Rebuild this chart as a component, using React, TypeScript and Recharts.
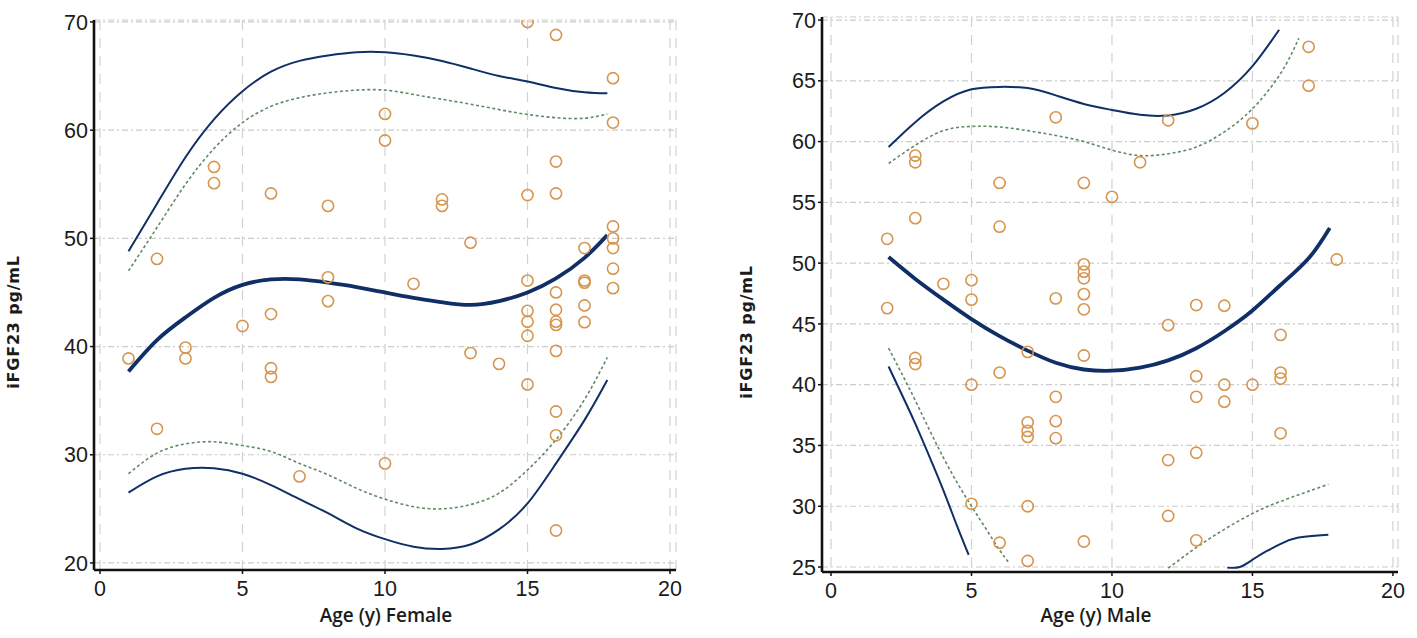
import React from "react";
import { ComposedChart, Scatter, Line, XAxis, YAxis, CartesianGrid } from "recharts";

// ---------- Female scatter ----------
const femaleAges = [
  1, 2, 2, 3, 3, 4, 4, 5, 6, 6, 6, 6, 7, 8, 8, 8, 10, 10, 10, 11, 12, 12, 13, 13, 14,
  15, 15, 15, 15, 15, 15, 15,
  16, 16, 16, 16, 16, 16, 16, 16, 16, 16, 16,
  17, 17, 17, 17, 17,
  18, 18, 18, 18, 18, 18, 18,
];
const femaleValues = [
  38.9, 48.1, 32.4, 39.9, 38.9, 56.6, 55.1, 41.9, 54.15, 43.0, 38.0, 37.2, 28.0, 53.0, 46.4, 44.2, 61.5, 59.05, 29.2, 45.8, 53.6, 53.0, 49.6, 39.4, 38.4,
  70.0, 54.0, 46.1, 43.3, 42.3, 41.0, 36.5,
  68.8, 57.1, 54.15, 45.0, 43.4, 42.3, 42.0, 39.6, 34.0, 31.8, 23.0,
  49.1, 46.1, 45.9, 43.8, 42.25,
  64.8, 60.7, 51.1, 50.0, 49.1, 47.2, 45.4,
];

// ---------- Female curves ----------
const femaleCurveAges = [1, 2, 3, 4, 5, 6, 7, 8, 9, 10, 11, 12, 13, 14, 15, 16, 17, 17.8];
const femaleFit = [37.7, 40.6, 42.7, 44.5, 45.7, 46.2, 46.2, 45.9, 45.5, 45.0, 44.5, 44.1, 43.85, 44.2, 45.0, 46.3, 48.2, 50.3];
const femaleUpperOuter = [48.8, 53.2, 57.5, 61.0, 63.6, 65.4, 66.4, 66.9, 67.2, 67.2, 66.9, 66.4, 65.7, 65.0, 64.5, 63.9, 63.5, 63.4];
const femaleUpperInner = [47.0, 51.0, 55.0, 58.3, 60.7, 62.2, 63.0, 63.45, 63.7, 63.7, 63.3, 62.85, 62.4, 61.9, 61.45, 61.15, 61.1, 61.5];
const femaleLowerInner = [28.25, 30.15, 31.0, 31.2, 30.85, 30.3, 29.2, 28.15, 26.9, 25.9, 25.2, 25.0, 25.4, 26.45, 28.6, 31.4, 35.1, 39.0];
const femaleLowerOuter = [26.5, 28.0, 28.7, 28.75, 28.25, 27.2, 25.9, 24.6, 23.2, 22.2, 21.5, 21.3, 21.7, 23.1, 25.5, 29.2, 33.2, 36.9];

// ---------- Male scatter ----------
const maleAges = [
  2, 2, 3, 3, 3, 3, 3, 4, 5, 5, 5, 5, 6, 6, 6, 6,
  7, 7, 7, 7, 7, 7,
  8, 8, 8, 8, 8,
  9, 9, 9, 9, 9, 9, 9, 9,
  10, 11, 12, 12, 12, 12,
  13, 13, 13, 13, 13, 14, 14, 14, 15, 15,
  16, 16, 16, 16, 17, 17, 18,
];
const maleValues = [
  52.0, 46.3, 58.85, 58.3, 53.7, 42.2, 41.7, 48.3, 48.6, 47.0, 40.0, 30.2, 56.6, 53.0, 41.0, 27.0,
  42.7, 36.9, 36.2, 35.7, 30.0, 25.5,
  62.0, 47.1, 39.0, 37.0, 35.6,
  56.6, 49.9, 49.3, 48.75, 47.45, 46.2, 42.4, 27.1,
  55.45, 58.3, 61.75, 44.9, 33.8, 29.2,
  46.55, 40.7, 39.0, 34.4, 27.2, 46.5, 40.0, 38.6, 61.5, 40.0,
  44.1, 41.0, 40.5, 36.0, 67.8, 64.6, 50.3,
];

// ---------- Male curves ----------
const maleFitAges = [2.05, 3, 4, 5, 6, 7, 8, 9, 10, 11, 12, 13, 14, 15, 16, 17, 17.75];
const maleFit = [50.5, 48.7, 47.0, 45.4, 44.0, 42.8, 41.8, 41.25, 41.15, 41.4, 42.0, 43.0, 44.4, 46.1, 48.2, 50.4, 52.9];
const maleUpperOuterAges = [2.05, 3, 4, 5, 6, 7, 8, 9, 10, 11, 12, 13, 14, 15, 15.95];
const maleUpperOuter = [59.55, 61.6, 63.3, 64.3, 64.5, 64.4, 63.8, 63.1, 62.6, 62.2, 62.15, 62.7, 64.0, 66.2, 69.2];
const maleUpperInnerAges = [2.05, 3, 4, 5, 6, 7, 8, 9, 10, 11, 12, 13, 14, 15, 16, 16.65];
const maleUpperInner = [58.2, 59.7, 60.9, 61.25, 61.2, 60.9, 60.5, 60.0, 59.3, 58.85, 59.0, 59.55, 60.8, 62.7, 65.6, 68.5];
const maleLowerOuterLeftAges = [2.05, 2.5, 3, 3.5, 4, 4.5, 4.9];
const maleLowerOuterLeft = [41.5, 39.3, 36.8, 34.1, 31.3, 28.3, 26.0];
const maleLowerInnerLeftAges = [2.05, 2.5, 3, 3.5, 4, 4.5, 5, 5.5, 6, 6.35];
const maleLowerInnerLeft = [43.0, 41.0, 38.7, 36.3, 34.0, 31.9, 30.0, 28.2, 26.4, 25.3];
const maleLowerInnerRightAges = [12, 13, 14, 15, 16, 17.7];
const maleLowerInnerRight = [24.9, 26.6, 28.1, 29.4, 30.4, 31.8];
const maleLowerOuterRightAges = [14.1, 14.55, 15, 15.5, 16, 16.6, 17.7];
const maleLowerOuterRight = [24.95, 25.0, 25.6, 26.3, 26.9, 27.4, 27.65];

// ---------- Ticks / labels ----------
const xTicks = [0, 5, 10, 15, 20];
const femaleYTicks = [20, 30, 40, 50, 60, 70];
const maleYTicks = [25, 30, 35, 40, 45, 50, 55, 60, 65, 70];
const yTitle = "iFGF23 pg/mL";
const femaleXTitle = "Age (y) Female";
const maleXTitle = "Age (y) Male";

const pairs = (xs: number[], ys: number[]) => xs.map((x, i) => ({ x, y: ys[i] }));

const NAVY = "#0f2f66";
const GREEN = "#5f8a62";
const ORANGE = "#d6964f";

const Marker = (props: any) => {
  const { cx, cy } = props;
  if (cx == null || cy == null) return null;
  return <circle cx={cx} cy={cy} r={5.6} fill="none" stroke={ORANGE} strokeWidth={1.6} />;
};

type CurveDef = { data: { x: number; y: number }[]; kind: "fit" | "outer" | "inner" };

const tickStyle = { fontFamily: "'Liberation Sans', Arial, sans-serif", fontSize: 21.5, fill: "#1b1b1b" };

function Panel(props: {
  width: number;
  height: number;
  margin: { top: number; right: number; left: number; bottom: number };
  yAxisWidth: number;
  xAxisHeight: number;
  xDomain: [number, number];
  yDomain: [number, number];
  yTicks: number[];
  points: { x: number; y: number }[];
  curves: CurveDef[];
}) {
  const { width, height, margin, yAxisWidth, xAxisHeight, xDomain, yDomain, yTicks, points, curves } = props;
  return (
    <ComposedChart width={width} height={height} margin={margin}>
      <CartesianGrid vertical={false} stroke="#cccccc" strokeDasharray="6 3 2 3" strokeWidth={1.2} />
      <CartesianGrid horizontal={false} stroke="#d2d2d2" strokeDasharray="10 8" strokeWidth={1.2} />
      <XAxis
        type="number"
        dataKey="x"
        domain={xDomain}
        ticks={xTicks}
        allowDataOverflow
        height={xAxisHeight}
        axisLine={{ stroke: "#111", strokeWidth: 2.6 }}
        tickLine={{ stroke: "#111", strokeWidth: 1.5 }}
        tickSize={4}
        tickMargin={7}
        tick={tickStyle}
        interval={0}
      />
      <YAxis
        type="number"
        dataKey="y"
        domain={yDomain}
        ticks={yTicks}
        allowDataOverflow
        width={yAxisWidth}
        axisLine={{ stroke: "#111", strokeWidth: 2.6 }}
        tickLine={{ stroke: "#111", strokeWidth: 1.5 }}
        tickSize={4}
        tickMargin={2}
        tick={tickStyle}
        interval={0}
      />
      <Scatter data={points} shape={Marker} isAnimationActive={false} />
      {curves.map((c, i) => (
        <Line
          key={i}
          data={c.data}
          dataKey="y"
          type="natural"
          dot={false}
          activeDot={false}
          isAnimationActive={false}
          stroke={c.kind === "inner" ? GREEN : NAVY}
          strokeWidth={c.kind === "fit" ? 3.8 : c.kind === "outer" ? 2 : 1.6}
          strokeDasharray={c.kind === "inner" ? "3 2.5" : undefined}
        />
      ))}
    </ComposedChart>
  );
}

const xTitleStyle: React.CSSProperties = {
  position: "absolute",
  fontFamily: "'Open Sans', sans-serif",
  fontWeight: 600,
  fontSize: 19,
  color: "#1b1b1b",
  whiteSpace: "nowrap",
  transform: "translate(-50%, -50%)",
};
const yTitleStyle: React.CSSProperties = {
  position: "absolute",
  fontFamily: "'DejaVu Sans', sans-serif",
  fontWeight: 700,
  fontSize: 16,
  letterSpacing: 0.8,
  color: "#1b1b1b",
  whiteSpace: "nowrap",
  transform: "translate(-50%, -50%) rotate(-90deg)",
};

export default function App() {
  const femalePoints = pairs(femaleAges, femaleValues);
  const malePoints = pairs(maleAges, maleValues);
  const femaleCurves: CurveDef[] = [
    { data: pairs(femaleCurveAges, femaleUpperInner), kind: "inner" },
    { data: pairs(femaleCurveAges, femaleLowerInner), kind: "inner" },
    { data: pairs(femaleCurveAges, femaleUpperOuter), kind: "outer" },
    { data: pairs(femaleCurveAges, femaleLowerOuter), kind: "outer" },
    { data: pairs(femaleCurveAges, femaleFit), kind: "fit" },
  ];
  const maleCurves: CurveDef[] = [
    { data: pairs(maleUpperInnerAges, maleUpperInner), kind: "inner" },
    { data: pairs(maleLowerInnerLeftAges, maleLowerInnerLeft), kind: "inner" },
    { data: pairs(maleLowerInnerRightAges, maleLowerInnerRight), kind: "inner" },
    { data: pairs(maleUpperOuterAges, maleUpperOuter), kind: "outer" },
    { data: pairs(maleLowerOuterLeftAges, maleLowerOuterLeft), kind: "outer" },
    { data: pairs(maleLowerOuterRightAges, maleLowerOuterRight), kind: "outer" },
    { data: pairs(maleFitAges, maleFit), kind: "fit" },
  ];
  return (
    <div style={{ position: "absolute", left: 0, top: 0, width: 1417, height: 638, background: "#fff", overflow: "hidden" }}>
      <div style={{ position: "absolute", left: 0, top: 0 }}>
        <Panel
          width={700}
          height={638}
          margin={{ top: 20, right: 24, left: 0, bottom: 0 }}
          yAxisWidth={94}
          xAxisHeight={68}
          xDomain={[-0.21, 20.21]}
          yDomain={[19.35, 70.18]}
          yTicks={femaleYTicks}
          points={femalePoints}
          curves={femaleCurves}
        />
      </div>
      <div style={{ position: "absolute", left: 710, top: 0 }}>
        <Panel
          width={707}
          height={638}
          margin={{ top: 17, right: 19, left: 0, bottom: 0 }}
          yAxisWidth={112}
          xAxisHeight={66}
          xDomain={[-0.32, 20.18]}
          yDomain={[24.59, 70.25]}
          yTicks={maleYTicks}
          points={malePoints}
          curves={maleCurves}
        />
      </div>
      <div style={{ ...yTitleStyle, left: 13, top: 322 }}>{yTitle}</div>
      <div style={{ ...yTitleStyle, left: 746, top: 332 }}>{yTitle}</div>
      <div style={{ ...xTitleStyle, left: 386, top: 615 }}>{femaleXTitle}</div>
      <div style={{ ...xTitleStyle, left: 1096, top: 615 }}>{maleXTitle}</div>
    </div>
  );
}
